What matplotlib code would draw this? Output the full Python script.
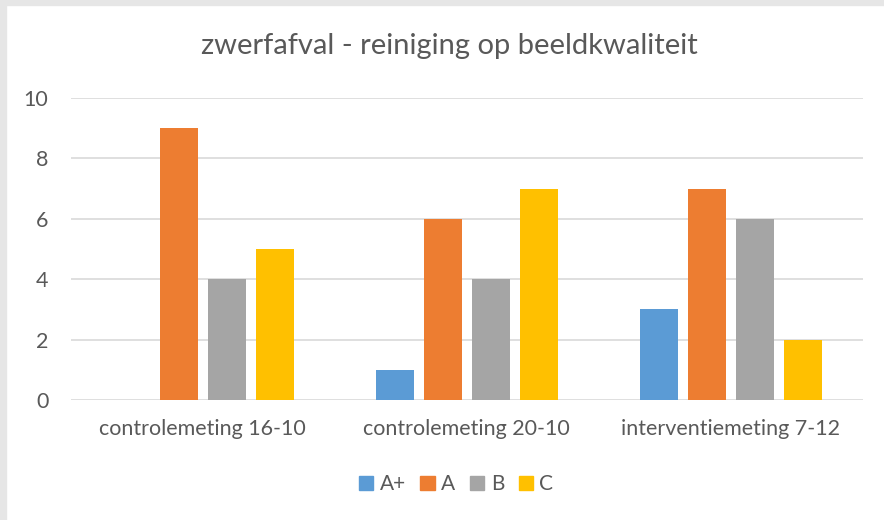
import matplotlib.pyplot as plt
import matplotlib.patches as mpatches
import numpy as np

# Metingen en scores per beeldkwaliteit
metingen = ['controlemeting 16-10', 'controlemeting 20-10', 'interventiemeting 7-12']
klassen = ['A+', 'A', 'B', 'C']
a_plus = [0, 1, 3]
a = [9, 6, 7]
b = [4, 4, 6]
c = [5, 7, 2]
kleuren = ['#5B9BD5', '#ED7D31', '#A5A5A5', '#FFC000']

plt.rcParams['font.family'] = ['Lato', 'DejaVu Sans']
tekst = '#595959'

fig = plt.figure(figsize=(8.84, 5.2), dpi=100)
ax = fig.add_axes([0.080, 0.2308, 0.896, 0.5807])

x = np.arange(len(metingen))
stap = 0.182
breedte = 0.144
for i, (reeks, kleur, naam) in enumerate(zip([a_plus, a, b, c], kleuren, klassen)):
    ax.bar(x + (i - 1.5) * stap, reeks, width=breedte, color=kleur, label=naam, zorder=3)

ax.set_xlim(-0.5, 2.5)
ax.set_ylim(0, 10)
ax.set_yticks(np.arange(0, 11, 2))
ax.set_xticks(x)
ax.set_xticklabels(metingen)
ax.tick_params(axis='both', length=0, colors=tekst, labelsize=15.5)
ax.tick_params(axis='y', pad=16)
ax.tick_params(axis='x', pad=14)
ax.grid(axis='y', color='#D9D9D9', linewidth=1.2, zorder=0)
for spine in ax.spines.values():
    spine.set_visible(False)

fig.text(0.508, 0.912, 'zwerfafval - reiniging op beeldkwaliteit', ha='center', va='center',
         fontsize=21, color=tekst)

handles = [mpatches.Patch(color=k, label=n) for k, n in zip(kleuren, klassen)]
fig.legend(handles=handles, loc='center', bbox_to_anchor=(0.516, 0.069), ncol=4, frameon=False,
           fontsize=15, labelcolor=tekst, handlelength=0.7, handleheight=0.7,
           handletextpad=0.3, columnspacing=0.7)

# grijze rand links en boven
fig.patches.append(mpatches.Rectangle((0, 0), 0.007, 1, transform=fig.transFigure,
                                      color='#E6E6E6', zorder=0))
fig.patches.append(mpatches.Rectangle((0, 0.99), 1, 0.01, transform=fig.transFigure,
                                      color='#E6E6E6', zorder=0))

fig.savefig('out.png', dpi=100)
